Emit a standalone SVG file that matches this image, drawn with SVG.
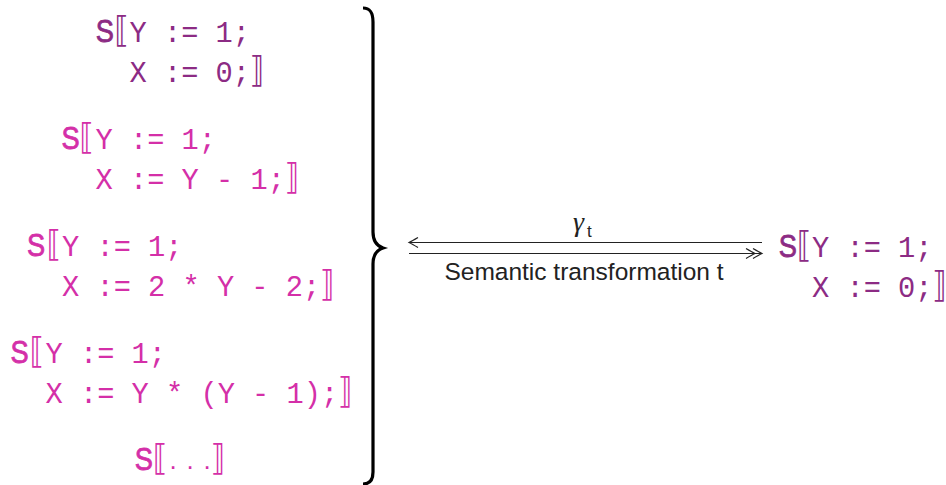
<svg xmlns="http://www.w3.org/2000/svg" width="946" height="485" viewBox="0 0 946 485">
<style>
.s{font-family:"Liberation Sans",sans-serif;font-size:32px;stroke-width:0.8}
.p .s{stroke:#8C2B84}
.m .s{stroke:#D42FA8}
.b{font-family:"DejaVu Sans",sans-serif;font-size:36px}
.c{font-family:"Liberation Mono",monospace;font-size:28.7px}
.d{font-family:"Liberation Sans",sans-serif;font-size:26px}
.p{fill:#8C2B84}
.m{fill:#D42FA8}
.lbl{font-family:"Liberation Sans",sans-serif;fill:#222}
.ln{stroke:#222;stroke-width:1.2;fill:none}
</style>
<defs>
<marker id="tip" markerUnits="userSpaceOnUse" viewBox="-12 -7 14 14" markerWidth="14" markerHeight="14" refX="0" refY="0" orient="auto" overflow="visible">
<path d="M-9,-5 Q-3,-1.5 0,0 Q-3,1.5 -9,5" fill="none" stroke="#222" stroke-width="1.2"/>
</marker>
<marker id="dbl" markerUnits="userSpaceOnUse" viewBox="-18 -7 20 14" markerWidth="20" markerHeight="14" refX="0" refY="0" orient="auto" overflow="visible">
<path d="M-9,-5 Q-3,-1.5 0,0 Q-3,1.5 -9,5 M-16,-5 Q-10,-1.5 -7,0 Q-10,1.5 -16,5" fill="none" stroke="#222" stroke-width="1.2"/>
</marker>
</defs>
<rect width="946" height="485" fill="#fff"/>
<g id="block1" class="p">
<text class="s" transform="translate(95.8,42) scale(0.85,1)">S</text>
<text class="b" transform="translate(114.5,42) scale(0.8,1)">⟦</text>
<text class="c" x="129.5" y="42">Y := 1;</text>
<text class="c" x="129.5" y="81.5">X := 0;</text>
<text class="b" transform="translate(250,81.5) scale(0.8,1)">⟧</text>
</g>
<g id="block2" class="m">
<text class="s" transform="translate(61.5,149) scale(0.85,1)">S</text>
<text class="b" transform="translate(79.6,149) scale(0.8,1)">⟦</text>
<text class="c" x="95.5" y="149">Y := 1;</text>
<text class="c" x="95.5" y="188.5">X := Y - 1;</text>
<text class="b" transform="translate(285,188.5) scale(0.8,1)">⟧</text>
</g>
<g id="block3" class="m">
<text class="s" transform="translate(27.1,256) scale(0.85,1)">S</text>
<text class="b" transform="translate(46.8,256) scale(0.8,1)">⟦</text>
<text class="c" x="62" y="256">Y := 1;</text>
<text class="c" x="62" y="295.5">X := 2 * Y - 2;</text>
<text class="b" transform="translate(320.3,295.5) scale(0.8,1)">⟧</text>
</g>
<g id="block4" class="m">
<text class="s" transform="translate(10.5,363) scale(0.85,1)">S</text>
<text class="b" transform="translate(29.8,363) scale(0.8,1)">⟦</text>
<text class="c" x="45.5" y="363">Y := 1;</text>
<text class="c" x="45.5" y="402.5">X := Y * (Y - 1);</text>
<text class="b" transform="translate(338.2,402.5) scale(0.8,1)">⟧</text>
</g>
<g id="block5" class="m">
<text class="s" transform="translate(134.8,470) scale(0.85,1)">S</text>
<text class="b" transform="translate(153,470) scale(0.8,1)">⟦</text>
<text class="d" x="169.5" y="469">.</text>
<text class="d" x="186.5" y="469">.</text>
<text class="d" x="203.5" y="469">.</text>
<text class="b" transform="translate(211,470) scale(0.8,1)">⟧</text>
</g>
<g id="brace">
<path d="M363,8 C370,8 373,12 373,22 L373,232 C373,242 377,246 383,248 C377,250 373,254 373,264 L373,472 C373,480 370,484 363,484" fill="none" stroke="#000" stroke-width="3.2"/>
</g>
<g id="result" class="p">
<text class="s" transform="translate(778.8,257) scale(0.85,1)">S</text>
<text class="b" transform="translate(797,257) scale(0.8,1)">⟦</text>
<text class="c" x="812" y="257">Y := 1;</text>
<text class="c" x="812" y="297">X := 0;</text>
<text class="b" transform="translate(932.5,297) scale(0.8,1)">⟧</text>
</g>
<g id="connectors">
<path class="ln" d="M762,242.5 L409,242.5" marker-end="url(#tip)"/>
<path class="ln" d="M409,253.5 L762,253.5" marker-end="url(#dbl)"/>
<text class="lbl" x="573" y="231" style="font-family:'Liberation Serif',serif;font-style:italic;font-size:28px">γ</text>
<text class="lbl" x="587" y="237" style="font-size:17px">t</text>
<text class="lbl" x="584" y="280" text-anchor="middle" style="font-size:24.5px">Semantic transformation t</text>
</g>
</svg>
